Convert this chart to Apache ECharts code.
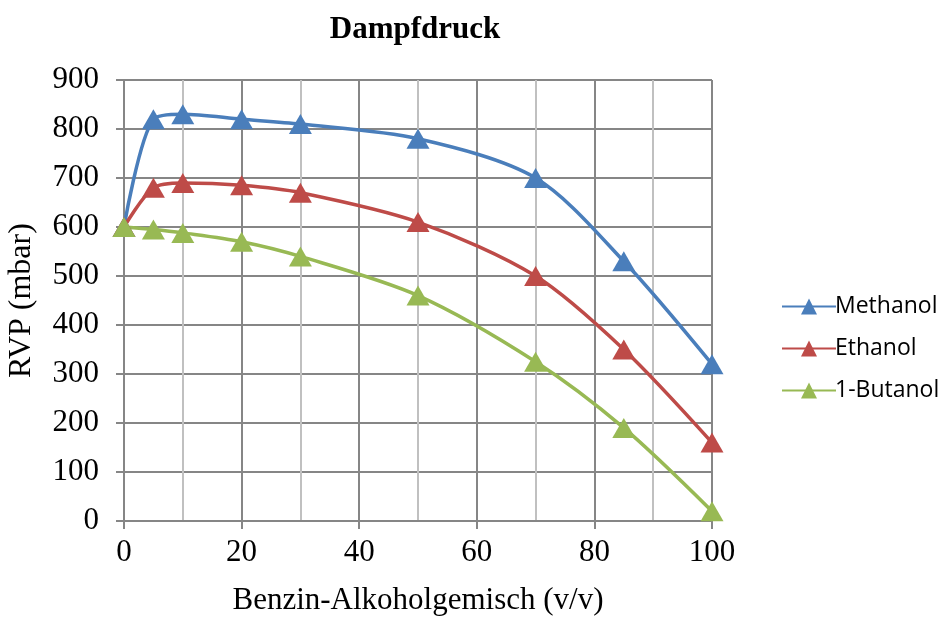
<!DOCTYPE html>
<html>
<head>
<meta charset="utf-8">
<script src="https://cdn.jsdelivr.net/npm/echarts@6/dist/echarts.min.js"></script>
<style>
  html, body { margin: 0; padding: 0; background: #fff; }
  #chart { width: 942px; height: 619px; }
</style>
</head>
<body>
<div id="chart"></div>
<script>
// Benzin-Alkoholgemisch (v/v)
const mix = [0, 5, 10, 20, 30, 50, 70, 85, 100]
const methanol = [600, 820, 830, 820, 810, 780, 700, 530, 320]
const ethanol = [600, 680, 690, 685, 670, 610, 500, 350, 160]
const butanol = [600, 595, 588, 570, 540, 460, 325, 190, 20]

const serif = '"Liberation Serif", "DejaVu Serif", serif'
const chart = echarts.init(document.getElementById('chart'))

function line(name, values, color) {
  return {
    name, type: 'line', smooth: 0.3,
    data: mix.map((x, i) => [x, values[i]]),
    symbol: 'triangle', symbolSize: [23, 20],
    itemStyle: { color },
    lineStyle: { color, width: 3.5 }
  }
}

chart.setOption({
  animation: false,
  title: {
    text: 'Dampfdruck', left: 410, top: 9, textAlign: 'center',
    textStyle: { fontFamily: serif, fontSize: 31, fontWeight: 'bold', color: '#000' }
  },
  legend: {
    orient: 'vertical', left: 776, top: 290, itemGap: 19,
    itemWidth: 54, itemHeight: 20,
    textStyle: { fontFamily: '"Open Sans", "Liberation Sans", sans-serif', fontSize: 23, color: '#000', padding: [0, 0, 0, -6] },
    data: ['Methanol', 'Ethanol', '1-Butanol']
  },
  grid: { left: 124, right: 230, top: 80, bottom: 98, outerBoundsMode: 'none', containLabel: false },
  xAxis: {
    type: 'value', min: 0, max: 100, interval: 20,
    name: 'Benzin-Alkoholgemisch (v/v)', nameLocation: 'middle', nameGap: 64,
    nameTextStyle: { fontFamily: serif, fontSize: 31, color: '#000' },
    axisLine: { show: true, lineStyle: { color: '#868686', width: 2 } },
    axisTick: { show: true, length: 8, lineStyle: { color: '#868686', width: 2 } },
    axisLabel: { fontFamily: serif, fontSize: 31, color: '#000', margin: 16 },
    splitLine: { lineStyle: { color: '#868686', width: 2 } },
    minorTick: { show: false, splitNumber: 2 },
    minorSplitLine: { show: true, lineStyle: { color: '#c0c0c0', width: 2 } }
  },
  yAxis: {
    type: 'value', min: 0, max: 900, interval: 100,
    name: 'RVP (mbar)', nameLocation: 'middle', nameGap: 86,
    nameTextStyle: { fontFamily: serif, fontSize: 32, color: '#000' },
    axisLine: { show: true, lineStyle: { color: '#868686', width: 2 } },
    axisTick: { show: true, length: 8, lineStyle: { color: '#868686', width: 2 } },
    axisLabel: { fontFamily: serif, fontSize: 31, color: '#000', margin: 25 },
    splitLine: { lineStyle: { color: '#868686', width: 2 } }
  },
  series: [
    line('Methanol', methanol, '#4a7ebb'),
    line('Ethanol', ethanol, '#be4b48'),
    line('1-Butanol', butanol, '#98b954')
  ]
})
</script>
</body>
</html>
